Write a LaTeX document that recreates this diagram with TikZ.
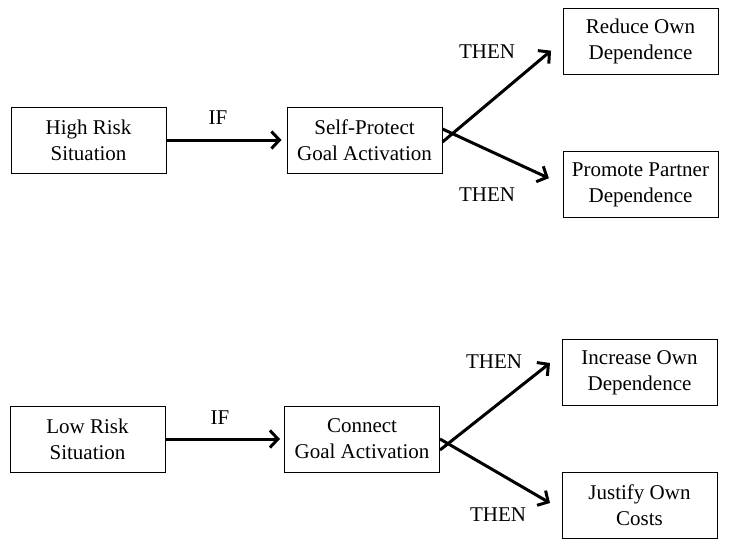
\documentclass[tikz,border=0pt]{standalone}
\usepackage{fontspec}
\setmainfont{Liberation Serif}
\usetikzlibrary{arrows.meta}

\tikzset{
	goalbox/.style={draw, line width=1pt, minimum width=155pt, minimum height=66pt,
		align=center, inner sep=2pt, font=\fontsize{21}{26}\selectfont},
	word/.style={font=\fontsize{21}{26}\selectfont},
	bigarrow/.style={line width=3pt, -{Straight Barb[length=8pt,width=17pt]}}
}

\begin{document}
\begin{tikzpicture}[x=1pt, y=-1pt]
		%%%%% START %%%%%
		\useasboundingbox (0, 0) rectangle (729, 552);
		
		% high risk row
		\node[goalbox] (high) at (88.5, 140) {High Risk\\Situation};
		\node[goalbox] (selfp) at (364.5, 140) {Self-Protect\\Goal Activation};
		\node[goalbox] (reduce) at (640.5, 41) {Reduce Own\\Dependence};
		\node[goalbox] (promote) at (640.5, 184.5) {Promote Partner\\Dependence};
		
		\node[word] (ifhigh) at (218, 118) {IF};
		\node[word] (thenreduce) at (487, 52) {THEN};
		\node[word] (thenpromote) at (487, 195) {THEN};
		
		\draw[bigarrow, shorten >=5pt] (high.east) -- (selfp.west);
		\draw[bigarrow, shorten >=15pt] ([yshift=-2pt]selfp.east) -- (reduce.west);
		\draw[bigarrow, shorten >=15pt] ([yshift=11pt]selfp.east) -- (promote.west);
		
		% low risk row
		\node[goalbox] (low) at (87.5, 439) {Low Risk\\Situation};
		\node[goalbox] (connect) at (362, 439) {Connect\\Goal Activation};
		\node[goalbox] (increase) at (639.5, 372.5) {Increase Own\\Dependence};
		\node[goalbox] (justify) at (639.5, 505) {Justify Own\\Costs};
		
		\node[word] (iflow) at (220, 418) {IF};
		\node[word] (thenincrease) at (494, 362) {THEN};
		\node[word] (thenjustify) at (498, 515) {THEN};
		
		\coordinate (increasetip) at (550, 363);
		\coordinate (justifytip) at (550, 503);
		\draw[bigarrow, shorten >=4pt] (low.east) -- (connect.west);
		\draw[bigarrow] ([yshift=-11pt]connect.east) -- (increasetip);
		\draw[bigarrow] (connect.east) -- (justifytip);
		
		%%%%% END %%%%%
\end{tikzpicture}
\end{document}
